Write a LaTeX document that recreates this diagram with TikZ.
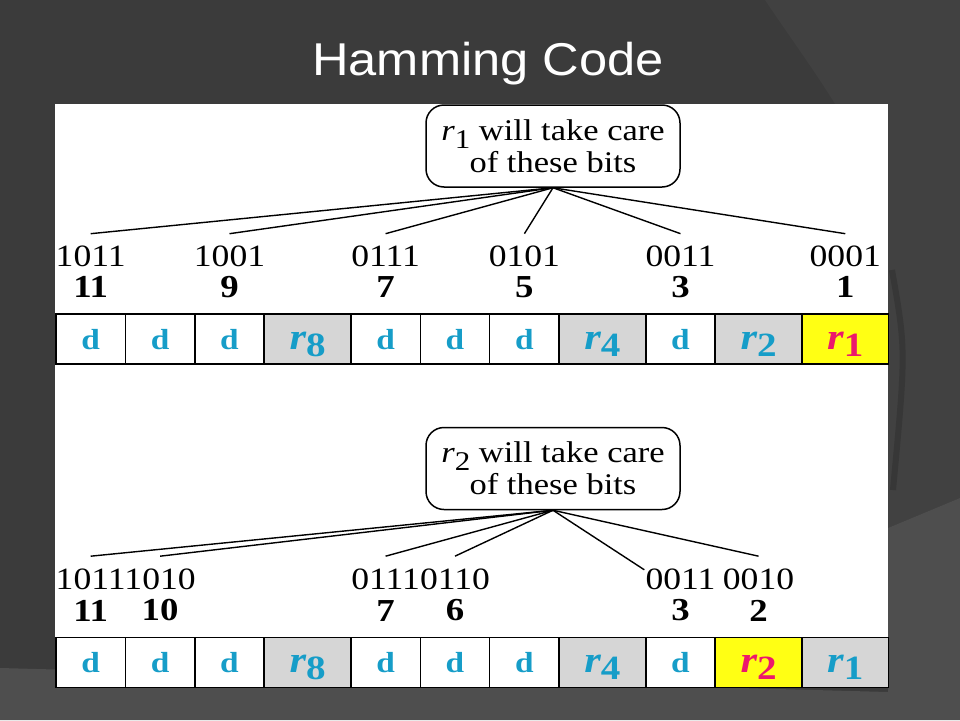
\documentclass[tikz,border=0pt]{standalone}
\usepackage{fontspec}
\setmainfont[FakeStretch=1.15]{Liberation Serif}
\newfontfamily\titlefont[FakeStretch=1.1]{Liberation Sans}
\usepackage{xcolor}
\usetikzlibrary{calc,chains,positioning}
\definecolor{slate}{RGB}{59,59,59}
\definecolor{slatemid}{RGB}{65,65,65}
\definecolor{slatelight}{RGB}{78,78,78}
\definecolor{slatedark}{RGB}{55,55,55}
\definecolor{bitblue}{RGB}{22,157,200}
\definecolor{markpink}{RGB}{236,24,108}
\definecolor{markyellow}{RGB}{255,255,20}
\definecolor{cellgray}{RGB}{214,214,214}
\tikzset{
  dcell/.style={ % data bit of the code word
    draw, rectangle, line width=1.5pt, outer sep=0pt, on chain,
    minimum width=69.4pt, minimum height=50pt, inner sep=0pt,
    text height=20pt, text depth=0pt,
    fill=white, text=bitblue, font=\fontsize{29}{29}\selectfont\bfseries
  },
  rcell/.style={ % redundant bit
    dcell, minimum width=86.7pt, fill=cellgray
  },
  rmark/.style={ % the redundant bit being looked at
    rcell, fill=markyellow, text=markpink
  },
  note/.style={
    draw, rectangle, rounded corners=18pt, line width=1.5pt,
    minimum width=254pt, minimum height=82pt, align=center,
    fill=white, font=\fontsize{30}{32}\selectfont
  },
  bits/.style={
    inner xsep=1pt, inner ysep=12pt, font=\fontsize{31}{31}\selectfont
  },
  num/.style={
    inner sep=0pt, font=\fontsize{32}{32}\selectfont\bfseries
  },
  tie/.style={line width=1.4pt}
}
\newcommand{\rbit}[1]{{\fontsize{37}{37}\selectfont\itshape r}\raisebox{-7pt}{\fontsize{34}{34}\selectfont #1}}
\newcommand{\rnote}[1]{\textit{r}\raisebox{-8pt}{\fontsize{27}{27}\selectfont #1}}

\begin{document}
\begin{tikzpicture}[x=1pt, y=-1pt]
  \useasboundingbox (0,0) rectangle (960,720);

  % slide background
  \fill[slate] (0,0) rectangle (960,720);
  \fill[slatemid] (765,0) .. controls (805,60) and (860,130) .. (888,210)
    -- (888,528) -- (960,498) -- (960,0) -- cycle;
  \fill[slatelight] (0,668) -- (888,692) -- (888,528) -- (960,498)
    -- (960,720) -- (0,720) -- cycle;
  \draw[slatedark, line width=6pt] (892,270) .. controls (906,350) .. (893,490);
  \fill[white] (55,104) rectangle (888,687);

  \node[font=\titlefont\fontsize{46}{46}\selectfont, text=white, anchor=base]
    (title) at (488,75) {Hamming Code};

  % r1
  \begin{scope}[start chain=toprow going right, node distance=0pt]
    \node[dcell] (t11) at (90.7,339) {d};
    \node[dcell] (t10) {d};
    \node[dcell] (t9) {d};
    \node[rcell] (t8) {\rbit{8}};
    \node[dcell] (t7) {d};
    \node[dcell] (t6) {d};
    \node[dcell] (t5) {d};
    \node[rcell] (t4) {\rbit{4}};
    \node[dcell] (t3) {d};
    \node[rcell] (t2) {\rbit{2}};
    \node[rmark] (t1) {\rbit{1}};
  \end{scope}
  \node[num,above=16pt of t11] (t11_num) {11};
  \node[num,above=16pt of t9] (t9_num) {9};
  \node[num,above=16pt of t7] (t7_num) {7};
  \node[num,above=16pt of t5] (t5_num) {5};
  \node[num,above=16pt of t3] (t3_num) {3};
  \node[num,above=16pt of t1] (t1_num) {1};
  \node[bits,above=35pt of t11] (t11_bits) {1011};
  \node[bits,above=35pt of t9] (t9_bits) {1001};
  \node[bits,above=35pt of t7] (t7_bits) {0111};
  \node[bits,above=35pt of t5] (t5_bits) {0101};
  \node[bits,above=35pt of t3] (t3_bits) {0011};
  \node[bits,above=35pt of t1] (t1_bits) {0001};
  \node[note] (top_note) at (553,146) {\rnote{1} will take care\\of these bits};
  \foreach \c in {t11,t9,t7,t5,t3,t1}
    \draw[tie] (top_note.south) -- (\c_bits.north);

  % r2
  \begin{scope}[start chain=botrow going right, node distance=0pt]
    \node[dcell] (b11) at (90.7,662.5) {d};
    \node[dcell] (b10) {d};
    \node[dcell] (b9) {d};
    \node[rcell] (b8) {\rbit{8}};
    \node[dcell] (b7) {d};
    \node[dcell] (b6) {d};
    \node[dcell] (b5) {d};
    \node[rcell] (b4) {\rbit{4}};
    \node[dcell] (b3) {d};
    \node[rmark] (b2) {\rbit{2}};
    \node[rcell, text=bitblue] (b1) {\rbit{1}};
  \end{scope}
  \node[num,above=16pt of b11] (b11_num) {11};
  \node[num,above=16pt of b10] (b10_num) {10};
  \node[num,above=16pt of b7] (b7_num) {7};
  \node[num,above=16pt of b6] (b6_num) {6};
  \node[num,above=16pt of b3] (b3_num) {3};
  \node[num,above=16pt of b2] (b2_num) {2};
  \node[bits,above=36pt of b11] (b11_bits) {1011};
  \node[bits,above=36pt of b10] (b10_bits) {1010};
  \node[bits,above=36pt of b7] (b7_bits) {0111};
  \node[bits,above=36pt of b6] (b6_bits) {0110};
  \node[bits,above=36pt of b3] (b3_bits) {0011};
  \node[bits,above=36pt of b2] (b2_bits) {0010};
  \node[note] (bot_note) at (553,468.5) {\rnote{2} will take care\\of these bits};
  \foreach \c in {b11,b10,b7,b6,b2}
    \draw[tie] (bot_note.south) -- (\c_bits.north);
  \draw[tie] (bot_note.south) -- ($(b3_bits.north west)!0.6!(b3_bits.west)$);
\end{tikzpicture}
\end{document}
